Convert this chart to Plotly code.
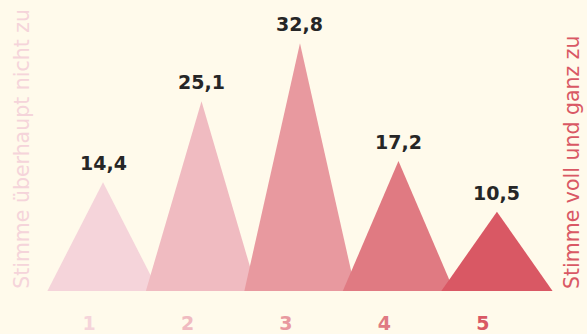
import plotly.graph_objects as go

# Response scale (1 = disagree completely, 5 = agree completely)
categories = [1, 2, 3, 4, 5]
shares = [14.4, 25.1, 32.8, 17.2, 10.5]
tick_labels = ["1", "2", "3", "4", "5"]
colors = ["#f5d4da", "#f0bbc1", "#e8999f", "#e07a82", "#d95864"]

BG = "#fffaeb"
HALF_WIDTH = 0.565  # half of the triangle base, in category units

fig = go.Figure()

for cat, val, col in zip(categories, shares, colors):
    fig.add_trace(go.Scatter(
        x=[cat - HALF_WIDTH, cat, cat + HALF_WIDTH, cat - HALF_WIDTH],
        y=[0, val, 0, 0],
        mode="lines",
        fill="toself",
        fillcolor=col,
        line=dict(width=0, color=col),
        hoverinfo="skip",
        showlegend=False,
    ))
    fig.add_annotation(
        x=cat, y=val, text=f"<b>{str(val).replace('.', ',')}</b>",
        showarrow=False, yanchor="bottom", yshift=6,
        font=dict(family="DejaVu Sans", size=19, color="#262626"),
    )

# vertical scale-end captions
fig.add_annotation(
    xref="paper", yref="y", x=-0.035, y=0, text="Stimme überhaupt nicht zu",
    textangle=-90, showarrow=False, xanchor="center", yanchor="bottom",
    font=dict(family="DejaVu Sans", size=20.5, color=colors[0]),
)
fig.add_annotation(
    xref="paper", yref="y", x=1.027, y=0, text="Stimme voll und ganz zu",
    textangle=-90, showarrow=False, xanchor="center", yanchor="bottom",
    font=dict(family="DejaVu Sans", size=20.5, color=colors[-1]),
)

fig.update_layout(
    width=587, height=334,
    margin=dict(l=40, r=29, t=19, b=43, autoexpand=False),
    paper_bgcolor=BG, plot_bgcolor=BG,
    xaxis=dict(
        range=[0.36, 5.62], showgrid=False, zeroline=False, showline=False,
        tickmode="array", tickvals=categories,
        ticktext=[f"<b><span style='color:{c}'>{t}</span></b>" for t, c in zip(tick_labels, colors)],
        ticks="", ticklabelstandoff=19, ticklabelshift=-14,
        tickfont=dict(family="DejaVu Sans", size=19),
        automargin=False, fixedrange=True,
    ),
    yaxis=dict(range=[0, 36], visible=False, fixedrange=True),
)

fig.write_html("out.html")
